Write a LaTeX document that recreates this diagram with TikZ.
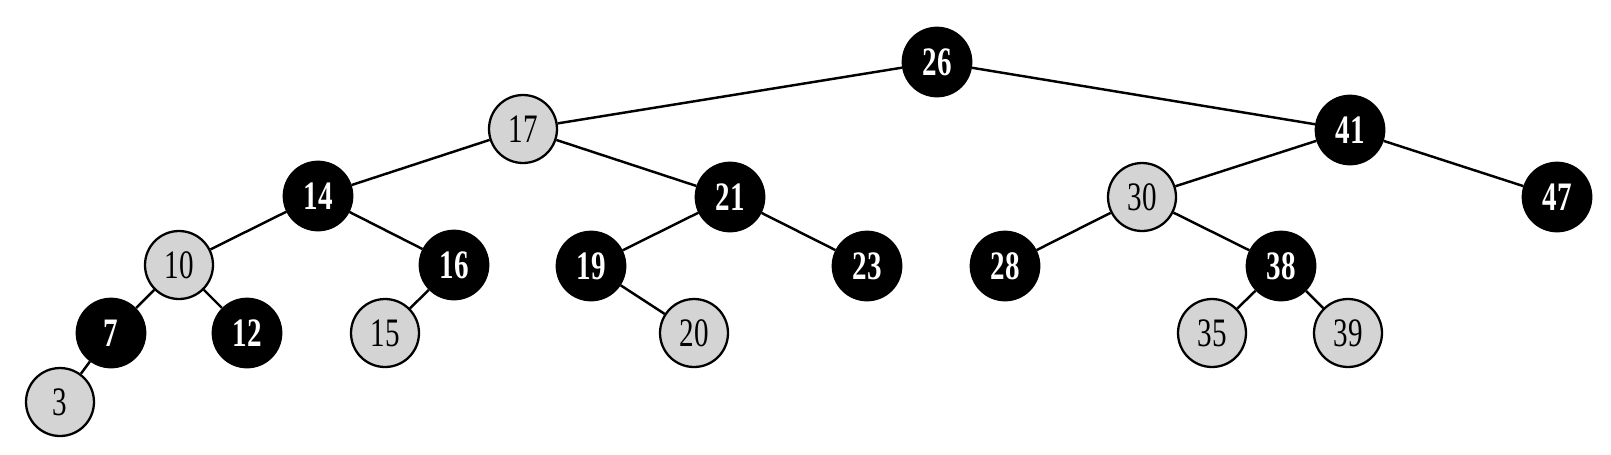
\documentclass[tikz,border=0pt]{standalone}
\usepackage{fontspec}
\newfontfamily\numfont[FakeStretch=0.72]{Liberation Serif}
\newfontfamily\numfontb[FakeStretch=0.72]{Liberation Serif Bold}
\begin{document}
\begin{tikzpicture}[x=0.02cm,y=-0.02cm,
    blk/.style={circle,fill=black,draw=black,line width=1pt,minimum size=1.38cm,inner sep=0pt,
      text=white,font=\numfontb\fontsize{23}{23}\selectfont},
    gry/.style={circle,fill=black!17,draw=black,line width=1.3pt,minimum size=1.36cm,inner sep=0pt,
      text=black,font=\numfont\fontsize{23}{23}\selectfont}]
  \useasboundingbox (0,0) rectangle (1611,454);
  \foreach \n/\x/\y in {26/937/62,41/1350/130,14/318/196,21/730/197,47/1557/197,
      16/454/265,19/591/266,23/867/266,28/1005/266,38/1281/266,7/111/333,12/247/333}
    \node[blk] (n\n) at (\x,\y) {\n};
  \foreach \n/\x/\y in {17/523/129,30/1142/197,10/179/265,15/385/333,
      20/694/333,35/1212/333,39/1348/333,3/60/402}
    \node[gry] (n\n) at (\x,\y) {\n};
  \foreach \a/\b in {26/17,26/41,17/14,17/21,14/10,14/16,10/7,10/12,7/3,16/15,
      21/19,21/23,19/20,41/30,41/47,30/28,30/38,38/35,38/39}
    \draw[line width=1.4pt] (n\a) -- (n\b);
\end{tikzpicture}
\end{document}
